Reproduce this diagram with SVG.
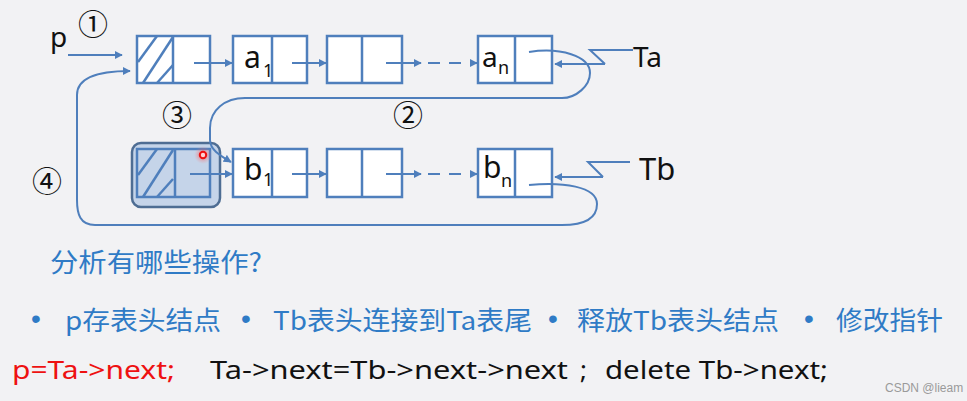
<svg xmlns="http://www.w3.org/2000/svg" width="967" height="401" viewBox="0 0 967 401">
<defs>
<marker id="ah" viewBox="0 0 10 10" refX="9" refY="5" markerWidth="4" markerHeight="4" orient="auto" markerUnits="strokeWidth">
<path d="M0,0 L10,5 L0,10 Z" fill="#4f7fbc"/>
</marker>
<radialGradient id="glow">
<stop offset="0" stop-color="#ff3030" stop-opacity="0.7"/>
<stop offset="1" stop-color="#ff8080" stop-opacity="0"/>
</radialGradient>
</defs>
<style>
.box{fill:#ffffff;stroke:#4f7fbc;stroke-width:2.5}
.hl{fill:none;stroke:#4f7fbc;stroke-width:2.5}
.div{stroke:#4f7fbc;stroke-width:2.5}
.ln{fill:none;stroke:#4f7fbc;stroke-width:2}
.arr{fill:none;stroke:#4f7fbc;stroke-width:2;marker-end:url(#ah)}
.lbl{font-family:"Noto Sans","Open Sans",sans-serif;fill:#111}
.num{font-family:"Noto Sans CJK SC",sans-serif;fill:#111;font-size:30px;text-anchor:middle}
.cn{font-family:"Noto Sans CJK SC","Noto Sans",sans-serif;fill:#2f7bc6;font-size:26px}
.bul{font-family:"Liberation Sans",sans-serif;fill:#2f7bc6;font-size:28px;text-anchor:middle}
.code{font-family:"Noto Sans","Noto Sans CJK SC",sans-serif;font-size:26px}
</style>
<rect width="967" height="401" fill="#f2f2f4"/>

<g id="node-a0">
<rect class="box" x="137" y="36" width="73" height="47"/>
<line class="div" x1="173" y1="36" x2="173" y2="83"/>
<line class="div" x1="138" y1="62" x2="157" y2="36"/>
<line class="div" x1="143" y1="83" x2="173" y2="37"/>
<line class="div" x1="157" y1="83" x2="173" y2="65"/>
</g>
<g id="node-a1">
<rect class="box" x="233" y="36" width="74" height="47"/>
<line class="div" x1="272" y1="36" x2="272" y2="83"/>
<text class="lbl" x="244" y="68" font-size="30">a</text>
<text class="lbl" x="263" y="77" font-size="18">1</text>
</g>
<g id="node-a2">
<rect class="box" x="327" y="36" width="75" height="47"/>
<line class="div" x1="362" y1="36" x2="362" y2="83"/>
</g>
<g id="node-an">
<rect class="box" x="478" y="36" width="74" height="47"/>
<line class="div" x1="515" y1="36" x2="515" y2="83"/>
<text class="lbl" x="482" y="67" font-size="28">a</text>
<text class="lbl" x="498" y="74" font-size="18">n</text>
</g>

<g id="node-b0">
<rect x="132" y="143" width="88" height="64" rx="9" fill="#c5d4e9" stroke="#4e6d93" stroke-width="2.5"/>
<rect class="hl" x="137" y="149" width="73" height="48"/>
<line class="div" x1="175" y1="149" x2="175" y2="197"/>
<line class="div" x1="138" y1="175" x2="157" y2="149"/>
<line class="div" x1="143" y1="197" x2="173" y2="150"/>
<line class="div" x1="157" y1="197" x2="173" y2="179"/>
<circle cx="203" cy="155" r="9" fill="url(#glow)"/>
<circle cx="203" cy="155" r="3.2" fill="#ffd0d0" stroke="#ee1010" stroke-width="2"/>
</g>
<g id="node-b1">
<rect class="box" x="233" y="149" width="74" height="48"/>
<line class="div" x1="272" y1="149" x2="272" y2="197"/>
<text class="lbl" x="244" y="180" font-size="30">b</text>
<text class="lbl" x="263" y="186" font-size="18">1</text>
</g>
<g id="node-b2">
<rect class="box" x="327" y="149" width="75" height="48"/>
<line class="div" x1="362" y1="149" x2="362" y2="197"/>
</g>
<g id="node-bn">
<rect class="box" x="478" y="149" width="74" height="48"/>
<line class="div" x1="515" y1="149" x2="515" y2="197"/>
<text class="lbl" x="483" y="178" font-size="30">b</text>
<text class="lbl" x="501" y="187" font-size="18">n</text>
</g>

<g id="connectors">
<line class="arr" x1="68" y1="55" x2="122" y2="55"/>
<line class="arr" x1="194" y1="63" x2="232" y2="63"/>
<line class="arr" x1="292" y1="63" x2="326" y2="63"/>
<line class="arr" x1="386" y1="63" x2="421" y2="63"/>
<line class="arr" x1="428" y1="63" x2="477" y2="63" stroke-dasharray="12,9"/>
<path class="ln" d="M633,50 L590,50 L605,64"/>
<line class="arr" x1="605" y1="64" x2="555" y2="64"/>
<path class="arr" d="M529,52 C560,47 590,56 590,73 C590,86 576,98 562,98 L245,98 C225,98 210,110 210,128 L210,140 C210,150 221,156 231,162"/>

<line class="arr" x1="190" y1="174" x2="232" y2="174"/>
<line class="arr" x1="292" y1="174" x2="326" y2="174"/>
<line class="arr" x1="386" y1="174" x2="421" y2="174"/>
<line class="arr" x1="428" y1="174" x2="477" y2="174" stroke-dasharray="12,9"/>
<path class="ln" d="M630,162 L588,162 L603,177"/>
<line class="arr" x1="603" y1="177" x2="555" y2="177"/>
<path class="arr" d="M529,185 C562,182 597,186 597,204 C597,219 583,225 562,225 L95,225 C80,225 77,214 77,200 L77,95 C77,80 92,71 130,71"/>
</g>

<g id="labels">
<text class="lbl" x="50" y="47" font-size="28">p</text>
<text class="num" x="93" y="35">①</text>
<text class="num" x="177" y="126">③</text>
<text class="num" x="408" y="126">②</text>
<text class="num" x="47" y="192">④</text>
<text class="lbl" x="633" y="67" font-size="28">Ta</text>
<text class="lbl" x="639" y="180" font-size="31">Tb</text>
</g>

<g id="text">
<text class="cn" x="50" y="272" textLength="212" lengthAdjust="spacingAndGlyphs">分析有哪些操作?</text>
<text class="bul" x="36" y="328">•</text>
<text class="cn" x="65" y="330" textLength="156" lengthAdjust="spacingAndGlyphs">p存表头结点</text>
<text class="bul" x="246" y="328">•</text>
<text class="cn" x="273" y="330" textLength="259" lengthAdjust="spacingAndGlyphs">Tb表头连接到Ta表尾</text>
<text class="bul" x="553" y="328">•</text>
<text class="cn" x="577" y="330" textLength="202" lengthAdjust="spacingAndGlyphs">释放Tb表头结点</text>
<text class="bul" x="809" y="328">•</text>
<text class="cn" x="836" y="330" textLength="107" lengthAdjust="spacingAndGlyphs">修改指针</text>
<text class="code" x="12" y="379" fill="#ee1111" textLength="163" lengthAdjust="spacingAndGlyphs">p=Ta-&gt;next;</text>
<text class="code" x="210" y="379" fill="#111" textLength="358" lengthAdjust="spacingAndGlyphs">Ta-&gt;next=Tb-&gt;next-&gt;next</text>
<text class="code" x="580" y="379" fill="#111">;</text>
<text class="code" x="605" y="379" fill="#111" textLength="223" lengthAdjust="spacingAndGlyphs">delete Tb-&gt;next;</text>
<text x="885" y="392" font-family="Liberation Sans, sans-serif" font-size="12" fill="#9a9a9a">CSDN @lieam</text>
</g>
</svg>
